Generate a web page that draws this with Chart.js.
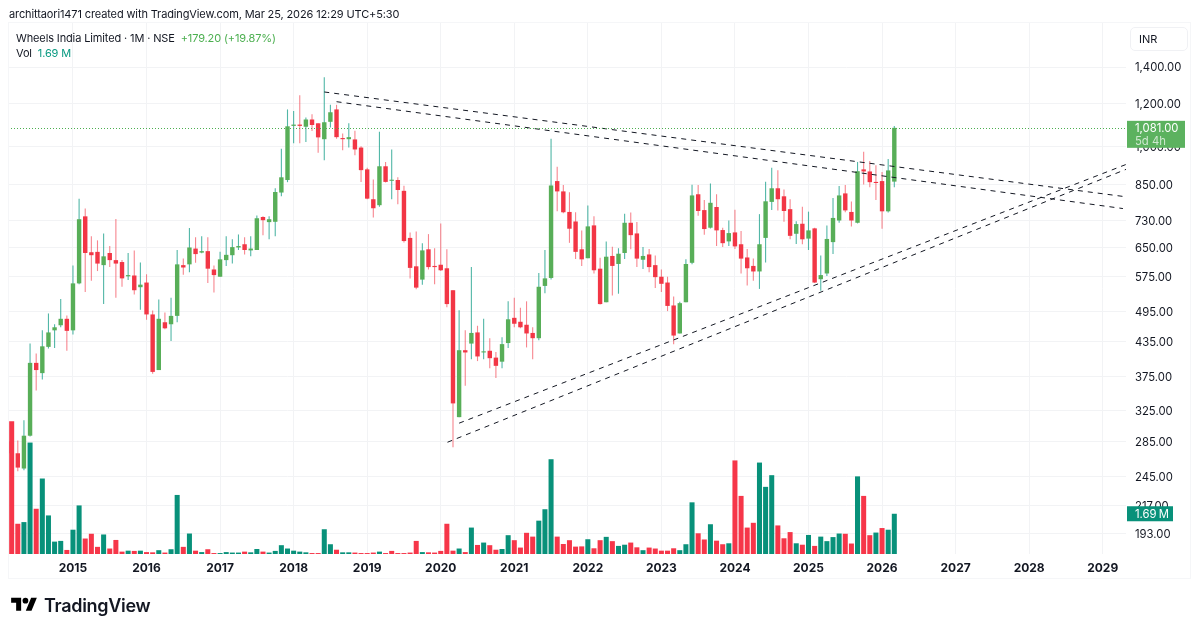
<!DOCTYPE html>
<html lang="en">
<head>
  <meta charset="UTF-8">
  <title>Wheels India Limited - 1M - NSE</title>
  <script src="https://cdn.jsdelivr.net/npm/chart.js"></script>
  <style>
    body { margin: 0; background: #fff; font-family: Inter, "Noto Sans", sans-serif; color: #131722; }
    #wrap { position: relative; width: 1199px; height: 632px; overflow: hidden; }
    #wrap div, #wrap span { white-space: nowrap; }
    canvas { position: absolute; left: 0; top: 0; }
    .txt { position: absolute; line-height: 16px; }
    #frame { position: absolute; left: 8px; top: 22px; width: 1181px; height: 555px; border: 1px solid #f5f6f8; }
    #inr { position: absolute; left: 1130px; top: 27px; width: 48px; height: 22px; border: 1px solid #f0f1f4; border-radius: 5px; font-size: 11px; line-height: 22px; padding-left: 8px; }
    .up { color: #4caf50; }
    .vol { color: #089981; }
  </style>
</head>
<body>
<div id="wrap">
  <canvas id="chart" width="1199" height="632"></canvas>
  <div id="frame"></div>
  <div class="txt" style="left:9px;top:6px;font-size:11px;letter-spacing:-0.12px">archittaori1471 created with TradingView.com, Mar 25, 2026 12:29 UTC+5:30</div>
  <div class="txt" style="left:16px;top:30px;font-size:11px;letter-spacing:-0.13px">Wheels India Limited · 1M · NSE &nbsp;<span class="up">+179.20 (+19.87%)</span></div>
  <div class="txt" style="left:16px;top:45px;font-size:11px;letter-spacing:-0.13px">Vol &nbsp;<span class="vol">1.69 M</span></div>
  <div id="inr">INR</div>
  <svg style="position:absolute;left:11px;top:595px" width="26" height="20" viewBox="0 0 36 28"><path d="M14 22H7V11H0V4h14v18z"/><circle cx="20" cy="8" r="4"/><path d="M28 4h8l-7.5 18h-8L28 4z"/></svg>
  <div class="txt" style="left:44px;top:597px;font-size:18px;line-height:18px;font-weight:600;letter-spacing:-0.3px">TradingView</div>
</div>

<script>
  // monthly bars, first one is Mar 2014, last one Mar 2026
  const opens = [
    285,271,254,292,398,381,426,457,467,480,
    457,558,742,637,638,603,635,616,611,575,
    577,549,560,489,386,473,469,486,603,605,
    647,636,640,592,574,616,629,650,659,642,
    643,740,724,725,821,866,1090,1096,1086,1120,
    1102,1030,1109,1169,1035,1030,1029,994,906,798,
    778,918,863,866,827,677,600,567,645,601,
    604,595,542,316,420,432,453,416,419,407,
    400,433,482,474,468,452,442,552,571,862,
    825,756,726,645,621,714,594,515,627,606,
    635,722,690,617,631,603,574,560,508,451,
    515,609,815,762,707,772,700,667,693,659,
    623,601,587,677,789,836,808,765,689,719,
    675,705,568,582,665,729,818,756,722,906,
    898,859,862,758,860];
  const highs = [
    292,286,312,432,414,457,491,469,522,487,
    602,800,767,682,670,690,654,734,616,635,
    642,610,580,497,521,493,525,643,620,706,
    679,682,679,602,638,682,673,687,679,682,
    745,742,742,836,989,1169,1161,1242,1130,1145,
    1102,1340,1193,1192,1055,1102,1068,1000,912,868,
    1063,935,986,876,845,693,696,662,688,648,
    720,645,542,498,457,598,466,480,442,417,
    444,517,525,503,517,463,583,643,1032,916,
    848,822,755,699,777,742,622,667,652,648,
    750,754,724,651,646,628,592,574,528,516,
    618,849,848,795,853,815,707,729,763,697,
    646,620,749,860,912,903,832,798,727,773,
    757,707,628,714,802,844,848,790,935,976,
    939,922,896,947,1089];
  const lows = [
    268,251,252,291,354,371,423,424,463,419,
    449,556,538,564,588,511,598,525,550,566,
    532,499,478,380,386,459,437,473,579,585,
    609,634,559,537,574,601,607,643,631,626,
    643,685,673,682,808,858,1012,1012,1018,1066,
    972,942,1083,1032,983,994,962,859,798,738,
    773,857,798,781,664,570,544,555,592,556,
    588,504,278,316,361,404,401,404,389,373,
    389,424,463,461,425,404,438,535,567,758,
    752,663,619,601,621,582,510,515,530,534,
    619,645,598,593,585,547,538,496,431,451,
    515,605,744,686,705,654,651,654,646,582,
    553,564,545,610,762,761,725,673,660,659,
    643,559,541,576,632,722,755,711,720,850,
    840,795,704,754,840];
  const closes = [
    271,255,292,398,386,427,453,463,480,456,
    558,733,635,629,607,626,616,607,570,578,
    542,555,489,383,480,461,486,605,597,650,
    632,640,594,578,618,630,651,654,643,647,
    736,730,733,823,876,1088,1096,1090,1120,1094,
    1038,1107,1155,1039,1030,1039,986,903,800,768,
    918,859,867,830,668,596,548,642,598,598,
    590,511,335,420,416,452,409,418,406,393,
    431,479,470,463,451,442,550,570,846,825,
    755,704,638,618,711,590,511,625,601,633,
    722,685,620,627,598,573,557,507,447,513,
    606,811,759,703,786,699,662,691,653,620,
    595,587,659,791,836,798,759,683,718,673,
    699,560,578,674,737,811,761,729,899,898,
    858,855,758,902,1081];
  // volume in millions
  const volumes = [
    5.57,1.27,1.34,4.68,1.90,3.17,1.62,0.52,0.55,0.17,
    1.02,2.04,0.65,0.85,0.30,0.82,0.23,0.59,0.10,0.14,
    0.13,0.14,0.08,0.07,0.16,0.06,0.20,2.48,0.30,0.86,
    0.14,0.08,0.20,0.04,0.04,0.08,0.06,0.06,0.10,0.07,
    0.21,0.10,0.06,0.13,0.37,0.23,0.14,0.10,0.07,0.04,
    0.04,1.04,0.41,0.18,0.07,0.07,0.06,0.04,0.04,0.06,
    0.10,0.04,0.13,0.04,0.04,0.06,0.55,0.08,0.07,0.06,
    0.13,1.27,0.14,0.23,0.08,1.11,0.38,0.48,0.37,0.18,
    0.21,0.79,0.58,0.27,0.89,0.73,1.40,1.88,3.98,0.73,
    0.42,0.58,0.31,0.32,0.62,0.24,0.58,0.72,0.54,0.34,
    0.39,0.48,0.28,0.16,0.27,0.23,0.14,0.14,0.24,0.16,
    0.41,2.17,0.87,0.61,1.25,0.56,0.41,0.45,3.93,2.44,
    1.11,1.31,3.84,2.82,3.31,1.20,0.66,0.92,0.45,0.39,
    0.80,0.34,0.73,0.54,0.71,0.86,0.85,0.44,3.26,2.44,
    0.79,0.90,1.09,1.02,1.69];
  // doji months where the volume bar has the opposite colour to the candle
  const volumeFlipped = [47, 54, 62, 141];

  const priceTicks = [1400,1200,1000,850,730,650,575,495,435,375,325,285,245,217,193];
  const yearLabels = ['2015','2016','2017','2018','2019','2020','2021','2022','2023','2024','2025','2026','2027','2028','2029'];
  const yearMonths = [10,22,34,46,58,70,82,94,106,118,130,142,154,166,178];

  // trend lines, month index and price at both ends
  const trendLines = [
    [[51.0,1259],[181.9,806]],
    [[53.0,1208],[181.3,767]],
    [[71.1,284],[181.9,907]],
    [[73.0,308],[181.9,926]]
  ];

  const GREEN = '#58ae58', RED = '#f23645';
  const isUp = i => closes[i] >= opens[i];

  const wickData = highs.map((h, i) => ({ x: i, y: [lows[i], h] }));
  const bodyData = opens.map((o, i) => ({ x: i, y: [Math.min(o, closes[i]), Math.max(o, closes[i])] }));
  const volumeData = volumes.map((v, i) => ({ x: i, y: v }));

  const datasets = [
    {
      type: 'bar', data: volumeData, yAxisID: 'v', order: 1, barPercentage: 0.82,
      backgroundColor: volumes.map((v, i) => (isUp(i) !== volumeFlipped.includes(i)) ? '#08917a' : '#f63649')
    },
    {
      type: 'bar', data: bodyData, yAxisID: 'y', order: 2, barPercentage: 0.72, minBarLength: 1,
      backgroundColor: opens.map((o, i) => isUp(i) ? GREEN : RED)
    },
    {
      type: 'bar', data: wickData, yAxisID: 'y', order: 3, barPercentage: 0.18,
      backgroundColor: opens.map((o, i) => isUp(i) ? 'rgba(8,153,129,0.7)' : 'rgba(242,54,69,0.6)')
    }
  ];
  trendLines.forEach(line => {
    datasets.push({
      type: 'line', yAxisID: 'y', order: 0, pointRadius: 0, borderWidth: 1, borderColor: '#131722',
      borderDash: [5, 5], data: line.map(p => ({ x: p[0], y: p[1] }))
    });
  });

  // last price line and the two tags on the price axis
  const priceTags = {
    id: 'priceTags',
    afterDraw(chart) {
      const { ctx, chartArea, scales } = chart;
      const lastClose = closes[closes.length - 1];
      const lastVol = volumes[volumes.length - 1];
      const py = scales.y.getPixelForValue(lastClose);
      const vy = scales.v.getPixelForValue(lastVol);
      ctx.save();
      ctx.strokeStyle = '#4caf50';
      ctx.lineWidth = 1;
      ctx.setLineDash([1, 2]);
      ctx.beginPath();
      ctx.moveTo(chartArea.left, Math.round(py) + 0.5);
      ctx.lineTo(chartArea.right, Math.round(py) + 0.5);
      ctx.stroke();
      ctx.setLineDash([]);

      ctx.fillStyle = '#5cb25f';
      ctx.fillRect(chartArea.right + 1, py - 7, 58, 27);
      ctx.fillStyle = '#08917a';
      ctx.fillRect(chartArea.right + 1, vy - 7.5, 46, 15);

      ctx.textBaseline = 'middle';
      ctx.font = '11.3px Inter, sans-serif';
      ctx.fillStyle = '#fff';
      ctx.fillText(lastClose.toLocaleString('en-US', { minimumFractionDigits: 2 }), chartArea.right + 9, py + 1);
      ctx.fillText(lastVol.toFixed(2) + '\u2009M', chartArea.right + 9, vy + 1);
      ctx.fillStyle = 'rgba(255,255,255,0.7)';
      ctx.fillText('5d 4h', chartArea.right + 9, py + 14);
      ctx.restore();
    }
  };

  new Chart(document.getElementById('chart'), {
    data: { datasets },
    plugins: [priceTags],
    options: {
      responsive: false,
      animation: false,
      datasets: { bar: { grouped: false, categoryPercentage: 1 } },
      layout: { padding: { left: 8, top: 23, right: 9, bottom: 54 } },
      plugins: { legend: { display: false }, tooltip: { enabled: false } },
      scales: {
        x: {
          type: 'linear',
          offset: false,
          min: -0.6,
          max: 181.8,
          grid: { color: '#f2f3f5', drawTicks: false, offset: false },
          border: { display: false },
          afterBuildTicks: s => { s.ticks = yearMonths.map(value => ({ value })); },
          afterFit: s => { s.height = 24; },
          ticks: {
            autoSkip: false,
            maxRotation: 0,
            padding: 7,
            color: '#131722',
            font: { family: 'Inter', size: 12, weight: '700' },
            callback: v => yearLabels[yearMonths.indexOf(v)]
          }
        },
        y: {
          type: 'logarithmic',
          position: 'right',
          min: 176.6,
          max: 1688,
          grid: { color: '#f2f3f5', drawTicks: false },
          border: { display: false },
          afterBuildTicks: s => { s.ticks = priceTicks.map(value => ({ value })); },
          afterFit: s => { s.width = 64; },
          ticks: {
            autoSkip: false,
            padding: 9,
            labelOffset: 1,
            color: '#131722',
            font: { family: 'Inter', size: 11.3 },
            callback: v => v.toLocaleString('en-US', { minimumFractionDigits: 2 })
          }
        },
        v: { type: 'linear', display: false, min: 0, max: 22.3 }
      }
    }
  });
</script>
</body>
</html>
